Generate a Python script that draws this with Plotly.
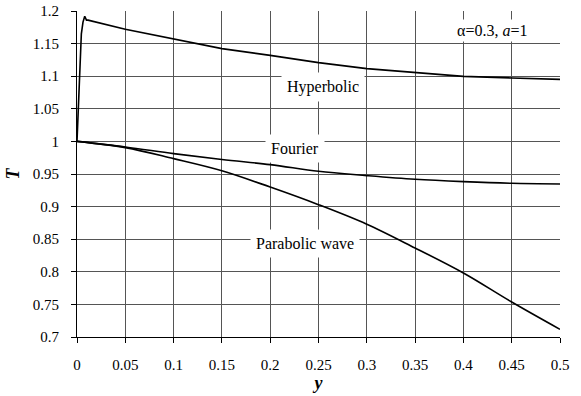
import plotly.graph_objects as go

# Data
x_grid = [0, 0.05, 0.1, 0.15, 0.2, 0.25, 0.3, 0.35, 0.4, 0.45, 0.5]

hyp_x = [0, 0.0003, 0.0015, 0.0023, 0.0045, 0.0062, 0.008, 0.0098, 0.0114,
         0.05, 0.1, 0.15, 0.2, 0.25, 0.3, 0.35, 0.4, 0.45, 0.5]
hyp_T = [1.0, 1.013, 1.068, 1.099, 1.165, 1.183, 1.192, 1.186, 1.186,
         1.172, 1.1566, 1.1423, 1.132, 1.1208, 1.1116, 1.1055, 1.0998, 1.0973, 1.0952]

fourier_T = [1.0, 0.9915, 0.9813, 0.9722, 0.9644, 0.9541, 0.9475, 0.9419, 0.9383, 0.9357, 0.9347]
parabolic_T = [1.0, 0.9905, 0.9736, 0.955, 0.930, 0.903, 0.873, 0.8365, 0.7982, 0.7537, 0.7118]

x_ticks = [0, 0.05, 0.1, 0.15, 0.2, 0.25, 0.3, 0.35, 0.4, 0.45, 0.5]
x_ticklabels = ["0", "0.05", "0.1", "0.15", "0.2", "0.25", "0.3", "0.35", "0.4", "0.45", "0.5"]
y_ticks = [0.7, 0.75, 0.8, 0.85, 0.9, 0.95, 1.0, 1.05, 1.1, 1.15, 1.2]
y_ticklabels = ["0.7", "0.75", "0.8", "0.85", "0.9", "0.95", "1", "1.05", "1.1", "1.15", "1.2"]

labels = ["Hyperbolic", "Fourier", "Parabolic wave"]
label_x = [0.2543, 0.2254, 0.2365]
label_T = [1.0834, 0.9887, 0.8433]

FONT = '"Liberation Serif", "Times New Roman", serif'

fig = go.Figure()
fig.add_trace(go.Scatter(x=hyp_x, y=hyp_T, mode="lines",
                         line=dict(color="black", width=1.6), name=labels[0]))
fig.add_trace(go.Scatter(x=x_grid, y=fourier_T, mode="lines", line_shape="spline",
                         line=dict(color="black", width=1.6), name=labels[1]))
fig.add_trace(go.Scatter(x=x_grid, y=parabolic_T, mode="lines", line_shape="spline",
                         line=dict(color="black", width=1.6), name=labels[2]))

for t, lx, ly in zip(labels, label_x, label_T):
    fig.add_annotation(x=lx, y=ly, text=t, showarrow=False,
                       font=dict(family=FONT, size=16, color="black"),
                       bgcolor="white", borderpad=5)

fig.add_annotation(x=0.4298, y=1.1704, text="α=0.3, <i>a</i>=1", showarrow=False,
                   font=dict(family=FONT, size=16, color="black"),
                   bgcolor="white", borderpad=2)

axis_common = dict(showgrid=True, gridcolor="#555555", gridwidth=1,
                   showline=True, linecolor="black", linewidth=1,
                   ticks="outside", ticklen=5, tickcolor="black",
                   tickfont=dict(family=FONT, size=15, color="black"),
                   zeroline=False, mirror=False, automargin=False)

fig.update_xaxes(range=[0, 0.5], tickvals=x_ticks, ticktext=x_ticklabels,
                 ticklabelstandoff=9,
                 title=dict(text="<b><i>y</i></b>", font=dict(family=FONT, size=18, color="black"),
                            standoff=3),
                 **axis_common)
fig.update_yaxes(range=[0.7, 1.2], tickvals=y_ticks, ticktext=y_ticklabels,
                 ticklabelstandoff=9,
                 title=dict(text="<b><i>T</i></b>", font=dict(family=FONT, size=18, color="black"),
                            standoff=8),
                 **axis_common)

fig.update_layout(width=581, height=396, showlegend=False,
                  plot_bgcolor="white", paper_bgcolor="white",
                  margin=dict(l=77, r=21, t=11, b=59),
                  font=dict(family=FONT, color="black"))

fig.write_html("out.html", config={"displayModeBar": False},
               post_script="document.body.style.margin='0';")
